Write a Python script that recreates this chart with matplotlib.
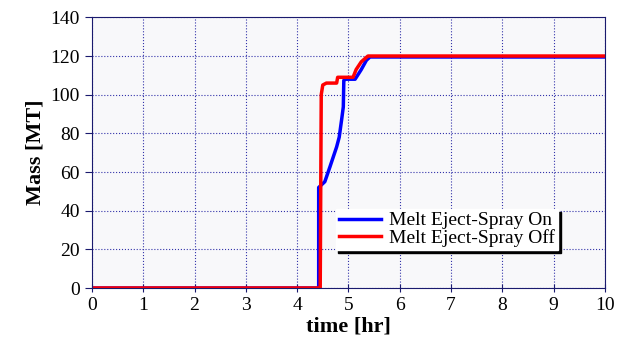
import numpy as np
import matplotlib.pyplot as plt

plt.rcParams['font.family'] = ['Liberation Serif', 'DejaVu Serif']

# time [hr] and mass [MT]
t_on = [0, 4.42, 4.42, 4.54, 4.64, 4.77, 4.82, 4.87, 4.90, 4.91, 4.95, 5.13, 5.25, 5.35, 5.42, 10]
m_on = [0, 0, 52, 55, 62.7, 73, 78, 87.6, 93.7, 107.4, 108, 108, 113, 117.8, 119.5, 119.5]

t_off = [0, 4.45, 4.47, 4.50, 4.57, 4.77, 4.79, 5.09, 5.15, 5.25, 5.38, 10]
m_off = [0, 0, 100, 105, 106, 106, 109, 109, 113, 117, 120, 120]

labels = ['Melt Eject-Spray On', 'Melt Eject-Spray Off']

navy = '#1a1a6e'

fig = plt.figure(figsize=(6.25, 3.47), dpi=100)
ax = fig.add_axes([0.147, 0.17, 0.821, 0.78])
ax.set_facecolor('#f8f8fa')

ax.plot(t_on, m_on, color='#0000ff', lw=2.5, label=labels[0])
ax.plot(t_off, m_off, color='#ff0000', lw=2.5, label=labels[1])

ax.set_xlim(0, 10)
ax.set_ylim(0, 140)
ax.set_xticks(np.arange(0, 11, 1))
ax.set_yticks(np.arange(0, 141, 20))
ax.grid(True, color='#3333aa', linestyle=':', linewidth=0.8)
for s in ax.spines.values():
    s.set_color(navy)
ax.tick_params(axis='both', colors=navy, labelcolor='black', labelsize=14)
ax.tick_params(axis='x', direction='inout', length=6)
ax.tick_params(axis='y', direction='out', length=5)

ax.set_xlabel('time [hr]', fontsize=16, fontweight='bold', labelpad=2)
ax.set_ylabel('Mass [MT]', fontsize=16, fontweight='bold', labelpad=4)

leg = ax.legend(loc='lower left', bbox_to_anchor=(0.475, 0.14), fontsize=14,
                frameon=True, fancybox=False, shadow={'color': 'black', 'alpha': 1},
                edgecolor='white', borderpad=0.15, labelspacing=0.0,
                handlelength=2.2, handletextpad=0.4, borderaxespad=0)
leg.get_frame().set_facecolor('white')
leg.get_frame().set_alpha(1)

fig.savefig('out.png', dpi=100)
